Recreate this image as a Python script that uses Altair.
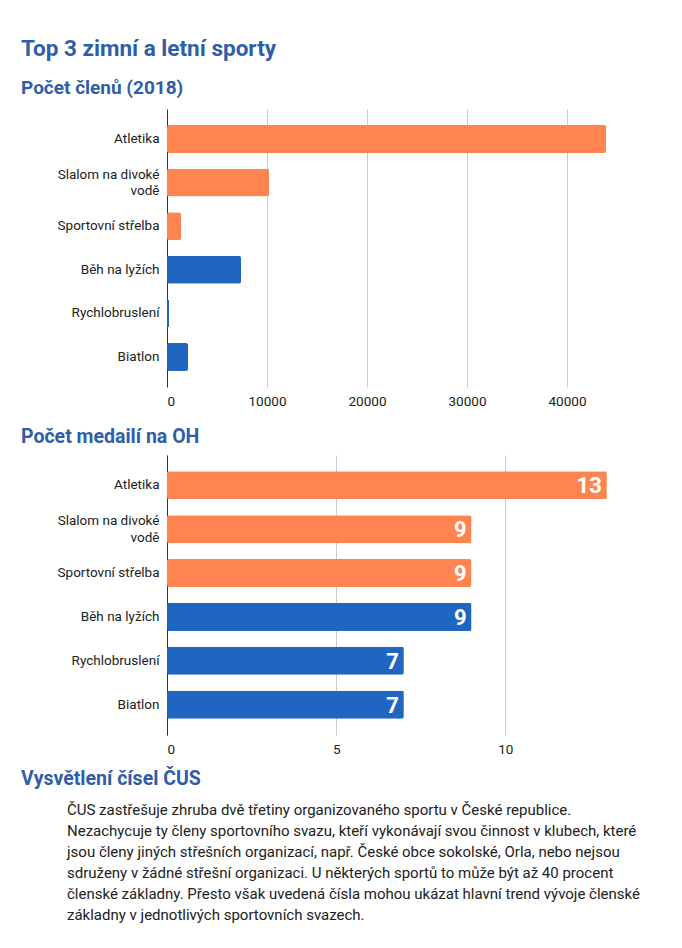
import altair as alt
import pandas as pd

categories = ["Atletika", "Slalom na divoké vodě", "Sportovní střelba",
              "Běh na lyžích", "Rychlobruslení", "Biatlon"]
season = ["letní", "letní", "letní", "zimní", "zimní", "zimní"]
members = [43900, 10200, 1400, 7400, 200, 2100]
medals = [13, 9, 9, 9, 7, 7]
members_ticks = [0, 10000, 20000, 30000, 40000]
medal_ticks = [0, 5, 10]
paragraph = [
    "ČUS zastřešuje zhruba dvě třetiny organizovaného sportu v České republice.",
    "Nezachycuje ty členy sportovního svazu, kteří vykonávají svou činnost v klubech, které",
    "jsou členy jiných střešních organizací, např. České obce sokolské, Orla, nebo nejsou",
    "sdruženy v žádné střešní organizaci. U některých sportů to může být až 40 procent",
    "členské základny. Přesto však uvedená čísla mohou ukázat hlavní trend vývoje členské",
    "základny v jednotlivých sportovních svazech.",
]

ORANGE = "#FF844F"
BLUE = "#1F66C1"
HEAD = "#2E5EA9"
FONT = "Roboto"

df = pd.DataFrame({"sport": categories, "season": season,
                   "members": members, "medals": medals})

color = alt.Color("season:N",
                  scale=alt.Scale(domain=["letní", "zimní"], range=[ORANGE, BLUE]),
                  legend=None)

wrap_test = "datum.value == 'Slalom na divoké vodě'"

y_enc = alt.Y("sport:N", sort=categories, title=None,
              scale=alt.Scale(paddingInner=0.36, paddingOuter=0.37),
              axis=alt.Axis(
                  labelExpr="datum.label == 'Slalom na divoké vodě' ? ['Slalom na divoké', 'vodě'] : datum.label",
                  labelOffset={"condition": {"test": wrap_test, "value": -8}, "value": 0},
                  domain=True, domainColor="#333333", domainWidth=1,
                  ticks=False, grid=False, labelFontSize=13.5, labelColor="#222222",
                  labelFont=FONT, labelPadding=8, labelLimit=200, labelLineHeight=16.5))

W = 450


def x_axis(vals, fmt, pad):
    return alt.Axis(values=vals, format=fmt, grid=True, gridColor="#cccccc",
                    domain=False, ticks=False, labelFontSize=13.5, labelColor="#222222",
                    labelFont=FONT, labelPadding=pad, title=None)


chart1 = alt.Chart(df).mark_bar(cornerRadius=2).encode(
    x=alt.X("members:Q", scale=alt.Scale(domain=[0, 45000], nice=False),
            axis=x_axis(members_ticks, "d", 7)),
    y=y_enc,
    color=color,
).properties(
    width=W, height=278,
    title=alt.TitleParams(
        text="Top 3 zimní a letní sporty",
        subtitle="Počet členů (2018)",
        anchor="start", frame="group", dx=-146,
        fontSize=22.5, font=FONT, fontWeight="bold", color=HEAD,
        subtitleFontSize=19, subtitleFont=FONT, subtitleFontWeight="bold",
        subtitleColor=HEAD, subtitlePadding=19, offset=11),
)

bars2 = alt.Chart(df).mark_bar(cornerRadius=2).encode(
    x=alt.X("medals:Q", scale=alt.Scale(domain=[0, 13.3], nice=False),
            axis=x_axis(medal_ticks, "d", 7)),
    y=y_enc,
    color=color,
)
labels2 = alt.Chart(df).mark_text(align="right", baseline="middle", dx=-5, dy=1,
                                  color="white", fontSize=22, fontWeight="bold",
                                  font=FONT).encode(
    x="medals:Q",
    y=alt.Y("sport:N", sort=categories),
    text="medals:Q",
)
chart2 = alt.layer(bars2, labels2).properties(
    width=W, height=280,
    title=alt.TitleParams(
        text="Počet medailí na OH", anchor="start", frame="group", dx=-146,
        fontSize=19.5, font=FONT, fontWeight="bold", color=HEAD, offset=8),
)

text_view = alt.Chart(pd.DataFrame({"t": [0]})).mark_text(
    align="left", baseline="top", fontSize=15, lineHeight=21, font=FONT,
    color="#222222", text=paragraph,
).encode(
    x=alt.value(-100), y=alt.value(0),
).properties(
    width=W, height=120,
    title=alt.TitleParams(
        text="Vysvětlení čísel ČUS", anchor="start", frame="group", dx=-146,
        fontSize=19.5, font=FONT, fontWeight="bold", color=HEAD, offset=14),
)

chart = alt.vconcat(chart1, chart2, text_view, spacing=68, bounds="flush").properties(
    padding={"left": 13, "top": 29, "right": 5, "bottom": 5},
    background="white",
).configure_view(stroke=None)

chart.save("out.html", embed_options={"renderer": "svg", "actions": False})
